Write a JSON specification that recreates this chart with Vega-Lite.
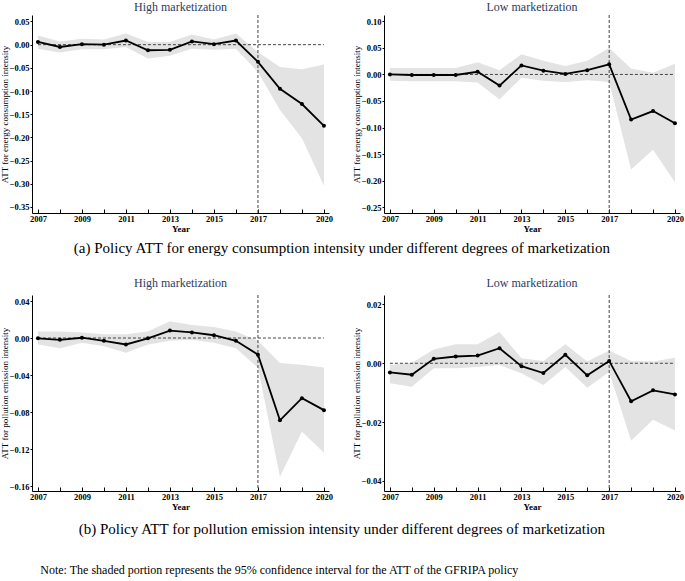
{
  "$schema": "https://vega.github.io/schema/vega-lite/v6.json",
  "background": "white",
  "padding": {"left": 0, "top": 0, "right": 0, "bottom": 2},
  "config": {
    "view": {"stroke": null},
    "font": "Liberation Serif",
    "axis": {"grid": false, "labelFont": "Liberation Serif", "labelFontWeight": "bold", "labelFontSize": 8.5, "labelColor": "#000", "domainColor": "#000", "domainWidth": 1, "tickColor": "#000", "titleFont": "Liberation Serif", "titleColor": "#000", "labelOverlap": false, "labelFlush": false},
    "axisX": {"tickSize": -4, "labelPadding": 5, "titleFontWeight": "bold", "titleFontSize": 9, "titlePadding": 2},
    "axisY": {"tickSize": 2, "labelPadding": 1, "titleFontWeight": "normal", "titleFontSize": 9, "titlePadding": 0},
    "title": {"font": "Liberation Serif", "fontSize": 12, "fontWeight": "normal", "color": "#2e3b5e"},
    "concat": {"spacing": 19}
  },
  "datasets": {
    "hE": [
      {"year": 2007, "att": 0.006, "lo": -0.009, "hi": 0.020},
      {"year": 2008, "att": -0.005, "lo": -0.017, "hi": 0.007},
      {"year": 2009, "att": 0.001, "lo": -0.010, "hi": 0.013},
      {"year": 2010, "att": 0.000, "lo": -0.010, "hi": 0.011},
      {"year": 2011, "att": 0.009, "lo": -0.005, "hi": 0.024},
      {"year": 2012, "att": -0.012, "lo": -0.030, "hi": 0.006},
      {"year": 2013, "att": -0.011, "lo": -0.024, "hi": 0.006},
      {"year": 2014, "att": 0.007, "lo": -0.009, "hi": 0.022},
      {"year": 2015, "att": 0.001, "lo": -0.011, "hi": 0.011},
      {"year": 2016, "att": 0.009, "lo": -0.009, "hi": 0.024},
      {"year": 2017, "att": -0.037, "lo": -0.059, "hi": -0.016},
      {"year": 2018, "att": -0.095, "lo": -0.141, "hi": -0.048},
      {"year": 2019, "att": -0.128, "lo": -0.202, "hi": -0.053},
      {"year": 2020, "att": -0.175, "lo": -0.304, "hi": -0.043}
    ],
    "lE": [
      {"year": 2007, "att": 0.000, "lo": -0.012, "hi": 0.012},
      {"year": 2008, "att": -0.001, "lo": -0.013, "hi": 0.012},
      {"year": 2009, "att": -0.001, "lo": -0.013, "hi": 0.012},
      {"year": 2010, "att": -0.001, "lo": -0.013, "hi": 0.012},
      {"year": 2011, "att": 0.005, "lo": -0.015, "hi": 0.023},
      {"year": 2012, "att": -0.021, "lo": -0.047, "hi": 0.008},
      {"year": 2013, "att": 0.017, "lo": -0.006, "hi": 0.038},
      {"year": 2014, "att": 0.007, "lo": -0.012, "hi": 0.026},
      {"year": 2015, "att": 0.001, "lo": -0.014, "hi": 0.016},
      {"year": 2016, "att": 0.008, "lo": -0.011, "hi": 0.026},
      {"year": 2017, "att": 0.019, "lo": -0.014, "hi": 0.050},
      {"year": 2018, "att": -0.085, "lo": -0.179, "hi": 0.011},
      {"year": 2019, "att": -0.069, "lo": -0.142, "hi": 0.003},
      {"year": 2020, "att": -0.092, "lo": -0.203, "hi": 0.020}
    ],
    "hP": [
      {"year": 2007, "att": -0.0003, "lo": -0.007, "hi": 0.007},
      {"year": 2008, "att": -0.002, "lo": -0.011, "hi": 0.007},
      {"year": 2009, "att": 0.0003, "lo": -0.005, "hi": 0.006},
      {"year": 2010, "att": -0.003, "lo": -0.009, "hi": 0.004},
      {"year": 2011, "att": -0.007, "lo": -0.016, "hi": 0.004},
      {"year": 2012, "att": -0.0003, "lo": -0.007, "hi": 0.007},
      {"year": 2013, "att": 0.008, "lo": -0.003, "hi": 0.018},
      {"year": 2014, "att": 0.006, "lo": -0.002, "hi": 0.014},
      {"year": 2015, "att": 0.003, "lo": -0.005, "hi": 0.012},
      {"year": 2016, "att": -0.003, "lo": -0.011, "hi": 0.007},
      {"year": 2017, "att": -0.018, "lo": -0.032, "hi": -0.003},
      {"year": 2018, "att": -0.089, "lo": -0.150, "hi": -0.027},
      {"year": 2019, "att": -0.065, "lo": -0.101, "hi": -0.029},
      {"year": 2020, "att": -0.078, "lo": -0.124, "hi": -0.032}
    ],
    "lP": [
      {"year": 2007, "att": -0.0031, "lo": -0.0068, "hi": -0.0006},
      {"year": 2008, "att": -0.0039, "lo": -0.0080, "hi": 0.0002},
      {"year": 2009, "att": 0.0015, "lo": -0.0017, "hi": 0.0047},
      {"year": 2010, "att": 0.0023, "lo": -0.0017, "hi": 0.0065},
      {"year": 2011, "att": 0.0026, "lo": -0.0013, "hi": 0.0065},
      {"year": 2012, "att": 0.0051, "lo": -0.0006, "hi": 0.0106},
      {"year": 2013, "att": -0.0010, "lo": -0.0034, "hi": 0.0017},
      {"year": 2014, "att": -0.0033, "lo": -0.0074, "hi": 0.0008},
      {"year": 2015, "att": 0.0029, "lo": -0.0013, "hi": 0.0065},
      {"year": 2016, "att": -0.0041, "lo": -0.0083, "hi": 0.0006},
      {"year": 2017, "att": 0.0008, "lo": -0.0030, "hi": 0.0043},
      {"year": 2018, "att": -0.0129, "lo": -0.0263, "hi": 0.0008},
      {"year": 2019, "att": -0.0092, "lo": -0.0192, "hi": 0.0006},
      {"year": 2020, "att": -0.0106, "lo": -0.0228, "hi": 0.0019}
    ]
  },
  "title": {"text": "Note: The shaded portion represents the 95% confidence interval for the ATT of the GFRIPA policy", "orient": "bottom", "anchor": "start", "dx": 40, "offset": 28, "fontSize": 12, "color": "#000", "font": "Liberation Serif", "fontWeight": "normal"},
  "spacing": 20,
  "vconcat": [
    {
      "title": {"text": "(a) Policy ATT for energy consumption intensity under different degrees of marketization", "orient": "bottom", "anchor": "middle", "offset": 7, "fontSize": 15, "color": "#000"},
      "hconcat": [
        {
          "title": {"text": "High marketization", "offset": 1},
          "width": 297, "height": 198,
          "layer": [
            {"data": {"name": "hE"}, "mark": {"type": "area", "color": "#e3e3e3"}, "encoding": {
              "x": {"field": "year", "type": "quantitative", "title": "Year", "scale": {"domain": [2006.73, 2020.23], "nice": false, "zero": false}, "axis": {"values": [2007, 2008, 2009, 2010, 2011, 2012, 2013, 2014, 2015, 2016, 2017, 2018, 2019, 2020], "format": "d", "labelOverlap": false, "labelExpr": "indexof([2007,2009,2011,2013,2015,2017,2020], datum.value) >= 0 ? datum.label : ''"}},
              "y": {"field": "lo", "type": "quantitative", "title": "ATT for energy consumption intensity", "scale": {"domain": [-0.363, 0.064], "nice": false, "zero": false}, "axis": {"values": [-0.35, -0.3, -0.25, -0.2, -0.15, -0.1, -0.05, 0, 0.05], "format": ".2f", "labelOverlap": false}},
              "y2": {"field": "hi"}}},
            {"data": {"values": [{}]}, "mark": {"type": "rule", "color": "#444", "strokeDash": [3, 2], "strokeWidth": 1}, "encoding": {
              "x": {"datum": 2007, "type": "quantitative", "title": "Year", "scale": {"domain": [2006.73, 2020.23], "nice": false, "zero": false}, "axis": {"values": [2007, 2008, 2009, 2010, 2011, 2012, 2013, 2014, 2015, 2016, 2017, 2018, 2019, 2020], "format": "d", "labelOverlap": false, "labelExpr": "indexof([2007,2009,2011,2013,2015,2017,2020], datum.value) >= 0 ? datum.label : ''"}},
              "x2": {"datum": 2020},
              "y": {"datum": 0, "type": "quantitative", "title": "ATT for energy consumption intensity", "scale": {"domain": [-0.363, 0.064], "nice": false, "zero": false}, "axis": {"values": [-0.35, -0.3, -0.25, -0.2, -0.15, -0.1, -0.05, 0, 0.05], "format": ".2f", "labelOverlap": false}}}},
            {"data": {"values": [{}]}, "mark": {"type": "rule", "color": "#444", "strokeDash": [3, 2], "strokeWidth": 1}, "encoding": {
              "x": {"datum": 2017, "type": "quantitative", "title": "Year", "scale": {"domain": [2006.73, 2020.23], "nice": false, "zero": false}, "axis": {"values": [2007, 2008, 2009, 2010, 2011, 2012, 2013, 2014, 2015, 2016, 2017, 2018, 2019, 2020], "format": "d", "labelOverlap": false, "labelExpr": "indexof([2007,2009,2011,2013,2015,2017,2020], datum.value) >= 0 ? datum.label : ''"}}}},
            {"data": {"name": "hE"},
             "encoding": {
              "x": {"field": "year", "type": "quantitative", "title": "Year", "scale": {"domain": [2006.73, 2020.23], "nice": false, "zero": false}, "axis": {"values": [2007, 2008, 2009, 2010, 2011, 2012, 2013, 2014, 2015, 2016, 2017, 2018, 2019, 2020], "format": "d", "labelOverlap": false, "labelExpr": "indexof([2007,2009,2011,2013,2015,2017,2020], datum.value) >= 0 ? datum.label : ''"}},
              "y": {"field": "att", "type": "quantitative", "title": "ATT for energy consumption intensity", "scale": {"domain": [-0.363, 0.064], "nice": false, "zero": false}, "axis": {"values": [-0.35, -0.3, -0.25, -0.2, -0.15, -0.1, -0.05, 0, 0.05], "format": ".2f", "labelOverlap": false}}},
             "layer": [
              {"mark": {"type": "line", "color": "#000", "strokeWidth": 1.8}},
              {"mark": {"type": "point", "filled": true, "color": "#000", "size": 16, "opacity": 1}}
             ]}
          ]
        },
        {
          "title": {"text": "Low marketization", "offset": 1},
          "width": 296, "height": 198,
          "layer": [
            {"data": {"name": "lE"}, "mark": {"type": "area", "color": "#e3e3e3"}, "encoding": {
              "x": {"field": "year", "type": "quantitative", "title": "Year", "scale": {"domain": [2006.73, 2020.23], "nice": false, "zero": false}, "axis": {"values": [2007, 2008, 2009, 2010, 2011, 2012, 2013, 2014, 2015, 2016, 2017, 2018, 2019, 2020], "format": "d", "labelOverlap": false, "labelExpr": "indexof([2007,2009,2011,2013,2015,2017,2020], datum.value) >= 0 ? datum.label : ''"}},
              "y": {"field": "lo", "type": "quantitative", "title": "ATT for energy consumption intensity", "scale": {"domain": [-0.261, 0.112], "nice": false, "zero": false}, "axis": {"values": [-0.25, -0.2, -0.15, -0.1, -0.05, 0, 0.05, 0.1], "format": ".2f", "labelOverlap": false}},
              "y2": {"field": "hi"}}},
            {"data": {"values": [{}]}, "mark": {"type": "rule", "color": "#444", "strokeDash": [3, 2], "strokeWidth": 1}, "encoding": {
              "x": {"datum": 2007, "type": "quantitative", "title": "Year", "scale": {"domain": [2006.73, 2020.23], "nice": false, "zero": false}, "axis": {"values": [2007, 2008, 2009, 2010, 2011, 2012, 2013, 2014, 2015, 2016, 2017, 2018, 2019, 2020], "format": "d", "labelOverlap": false, "labelExpr": "indexof([2007,2009,2011,2013,2015,2017,2020], datum.value) >= 0 ? datum.label : ''"}},
              "x2": {"datum": 2020},
              "y": {"datum": 0, "type": "quantitative", "title": "ATT for energy consumption intensity", "scale": {"domain": [-0.261, 0.112], "nice": false, "zero": false}, "axis": {"values": [-0.25, -0.2, -0.15, -0.1, -0.05, 0, 0.05, 0.1], "format": ".2f", "labelOverlap": false}}}},
            {"data": {"values": [{}]}, "mark": {"type": "rule", "color": "#444", "strokeDash": [3, 2], "strokeWidth": 1}, "encoding": {
              "x": {"datum": 2017, "type": "quantitative", "title": "Year", "scale": {"domain": [2006.73, 2020.23], "nice": false, "zero": false}, "axis": {"values": [2007, 2008, 2009, 2010, 2011, 2012, 2013, 2014, 2015, 2016, 2017, 2018, 2019, 2020], "format": "d", "labelOverlap": false, "labelExpr": "indexof([2007,2009,2011,2013,2015,2017,2020], datum.value) >= 0 ? datum.label : ''"}}}},
            {"data": {"name": "lE"},
             "encoding": {
              "x": {"field": "year", "type": "quantitative", "title": "Year", "scale": {"domain": [2006.73, 2020.23], "nice": false, "zero": false}, "axis": {"values": [2007, 2008, 2009, 2010, 2011, 2012, 2013, 2014, 2015, 2016, 2017, 2018, 2019, 2020], "format": "d", "labelOverlap": false, "labelExpr": "indexof([2007,2009,2011,2013,2015,2017,2020], datum.value) >= 0 ? datum.label : ''"}},
              "y": {"field": "att", "type": "quantitative", "title": "ATT for energy consumption intensity", "scale": {"domain": [-0.261, 0.112], "nice": false, "zero": false}, "axis": {"values": [-0.25, -0.2, -0.15, -0.1, -0.05, 0, 0.05, 0.1], "format": ".2f", "labelOverlap": false}}},
             "layer": [
              {"mark": {"type": "line", "color": "#000", "strokeWidth": 1.8}},
              {"mark": {"type": "point", "filled": true, "color": "#000", "size": 16, "opacity": 1}}
             ]}
          ]
        }
      ]
    },
    {
      "title": {"text": "(b) Policy ATT for pollution emission intensity under different degrees of marketization", "orient": "bottom", "anchor": "middle", "offset": 10, "fontSize": 15, "color": "#000"},
      "hconcat": [
        {
          "title": {"text": "High marketization", "offset": 5},
          "width": 297, "height": 196,
          "layer": [
            {"data": {"name": "hP"}, "mark": {"type": "area", "color": "#e3e3e3"}, "encoding": {
              "x": {"field": "year", "type": "quantitative", "title": "Year", "scale": {"domain": [2006.73, 2020.23], "nice": false, "zero": false}, "axis": {"values": [2007, 2008, 2009, 2010, 2011, 2012, 2013, 2014, 2015, 2016, 2017, 2018, 2019, 2020], "format": "d", "labelOverlap": false, "labelExpr": "indexof([2007,2009,2011,2013,2015,2017,2020], datum.value) >= 0 ? datum.label : ''"}},
              "y": {"field": "lo", "type": "quantitative", "title": "ATT for pollution emission intensity", "scale": {"domain": [-0.1654, 0.0465], "nice": false, "zero": false}, "axis": {"values": [-0.16, -0.12, -0.08, -0.04, 0, 0.04], "format": ".2f", "labelOverlap": false}},
              "y2": {"field": "hi"}}},
            {"data": {"values": [{}]}, "mark": {"type": "rule", "color": "#444", "strokeDash": [3, 2], "strokeWidth": 1}, "encoding": {
              "x": {"datum": 2007, "type": "quantitative", "title": "Year", "scale": {"domain": [2006.73, 2020.23], "nice": false, "zero": false}, "axis": {"values": [2007, 2008, 2009, 2010, 2011, 2012, 2013, 2014, 2015, 2016, 2017, 2018, 2019, 2020], "format": "d", "labelOverlap": false, "labelExpr": "indexof([2007,2009,2011,2013,2015,2017,2020], datum.value) >= 0 ? datum.label : ''"}},
              "x2": {"datum": 2020},
              "y": {"datum": 0, "type": "quantitative", "title": "ATT for pollution emission intensity", "scale": {"domain": [-0.1654, 0.0465], "nice": false, "zero": false}, "axis": {"values": [-0.16, -0.12, -0.08, -0.04, 0, 0.04], "format": ".2f", "labelOverlap": false}}}},
            {"data": {"values": [{}]}, "mark": {"type": "rule", "color": "#444", "strokeDash": [3, 2], "strokeWidth": 1}, "encoding": {
              "x": {"datum": 2017, "type": "quantitative", "title": "Year", "scale": {"domain": [2006.73, 2020.23], "nice": false, "zero": false}, "axis": {"values": [2007, 2008, 2009, 2010, 2011, 2012, 2013, 2014, 2015, 2016, 2017, 2018, 2019, 2020], "format": "d", "labelOverlap": false, "labelExpr": "indexof([2007,2009,2011,2013,2015,2017,2020], datum.value) >= 0 ? datum.label : ''"}}}},
            {"data": {"name": "hP"},
             "encoding": {
              "x": {"field": "year", "type": "quantitative", "title": "Year", "scale": {"domain": [2006.73, 2020.23], "nice": false, "zero": false}, "axis": {"values": [2007, 2008, 2009, 2010, 2011, 2012, 2013, 2014, 2015, 2016, 2017, 2018, 2019, 2020], "format": "d", "labelOverlap": false, "labelExpr": "indexof([2007,2009,2011,2013,2015,2017,2020], datum.value) >= 0 ? datum.label : ''"}},
              "y": {"field": "att", "type": "quantitative", "title": "ATT for pollution emission intensity", "scale": {"domain": [-0.1654, 0.0465], "nice": false, "zero": false}, "axis": {"values": [-0.16, -0.12, -0.08, -0.04, 0, 0.04], "format": ".2f", "labelOverlap": false}}},
             "layer": [
              {"mark": {"type": "line", "color": "#000", "strokeWidth": 1.8}},
              {"mark": {"type": "point", "filled": true, "color": "#000", "size": 16, "opacity": 1}}
             ]}
          ]
        },
        {
          "title": {"text": "Low marketization", "offset": 5},
          "width": 296, "height": 196,
          "layer": [
            {"data": {"name": "lP"}, "mark": {"type": "area", "color": "#e3e3e3"}, "encoding": {
              "x": {"field": "year", "type": "quantitative", "title": "Year", "scale": {"domain": [2006.73, 2020.23], "nice": false, "zero": false}, "axis": {"values": [2007, 2008, 2009, 2010, 2011, 2012, 2013, 2014, 2015, 2016, 2017, 2018, 2019, 2020], "format": "d", "labelOverlap": false, "labelExpr": "indexof([2007,2009,2011,2013,2015,2017,2020], datum.value) >= 0 ? datum.label : ''"}},
              "y": {"field": "lo", "type": "quantitative", "title": "ATT for pollution emission intensity", "scale": {"domain": [-0.0434, 0.0232], "nice": false, "zero": false}, "axis": {"values": [-0.04, -0.02, 0, 0.02], "format": ".2f", "labelOverlap": false}},
              "y2": {"field": "hi"}}},
            {"data": {"values": [{}]}, "mark": {"type": "rule", "color": "#444", "strokeDash": [3, 2], "strokeWidth": 1}, "encoding": {
              "x": {"datum": 2007, "type": "quantitative", "title": "Year", "scale": {"domain": [2006.73, 2020.23], "nice": false, "zero": false}, "axis": {"values": [2007, 2008, 2009, 2010, 2011, 2012, 2013, 2014, 2015, 2016, 2017, 2018, 2019, 2020], "format": "d", "labelOverlap": false, "labelExpr": "indexof([2007,2009,2011,2013,2015,2017,2020], datum.value) >= 0 ? datum.label : ''"}},
              "x2": {"datum": 2020},
              "y": {"datum": 0, "type": "quantitative", "title": "ATT for pollution emission intensity", "scale": {"domain": [-0.0434, 0.0232], "nice": false, "zero": false}, "axis": {"values": [-0.04, -0.02, 0, 0.02], "format": ".2f", "labelOverlap": false}}}},
            {"data": {"values": [{}]}, "mark": {"type": "rule", "color": "#444", "strokeDash": [3, 2], "strokeWidth": 1}, "encoding": {
              "x": {"datum": 2017, "type": "quantitative", "title": "Year", "scale": {"domain": [2006.73, 2020.23], "nice": false, "zero": false}, "axis": {"values": [2007, 2008, 2009, 2010, 2011, 2012, 2013, 2014, 2015, 2016, 2017, 2018, 2019, 2020], "format": "d", "labelOverlap": false, "labelExpr": "indexof([2007,2009,2011,2013,2015,2017,2020], datum.value) >= 0 ? datum.label : ''"}}}},
            {"data": {"name": "lP"},
             "encoding": {
              "x": {"field": "year", "type": "quantitative", "title": "Year", "scale": {"domain": [2006.73, 2020.23], "nice": false, "zero": false}, "axis": {"values": [2007, 2008, 2009, 2010, 2011, 2012, 2013, 2014, 2015, 2016, 2017, 2018, 2019, 2020], "format": "d", "labelOverlap": false, "labelExpr": "indexof([2007,2009,2011,2013,2015,2017,2020], datum.value) >= 0 ? datum.label : ''"}},
              "y": {"field": "att", "type": "quantitative", "title": "ATT for pollution emission intensity", "scale": {"domain": [-0.0434, 0.0232], "nice": false, "zero": false}, "axis": {"values": [-0.04, -0.02, 0, 0.02], "format": ".2f", "labelOverlap": false}}},
             "layer": [
              {"mark": {"type": "line", "color": "#000", "strokeWidth": 1.8}},
              {"mark": {"type": "point", "filled": true, "color": "#000", "size": 16, "opacity": 1}}
             ]}
          ]
        }
      ]
    }
  ]
}
